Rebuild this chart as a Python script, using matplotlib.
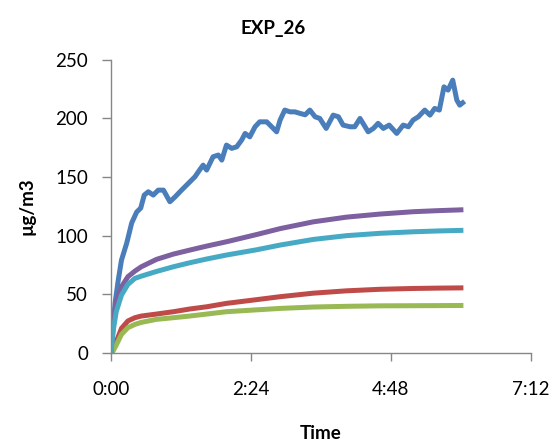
import matplotlib

matplotlib.use("Agg")
import matplotlib.pyplot as plt

plt.rcParams["font.family"] = ["Lato", "DejaVu Sans"]

# time in hours
blue_t = [0, 0.01, 0.07, 0.125, 0.18, 0.27, 0.355, 0.44, 0.51, 0.57, 0.64, 0.725,
          0.81, 0.90, 1.01, 1.10, 1.21, 1.325, 1.44, 1.52, 1.58, 1.64, 1.75, 1.84,
          1.90, 1.98, 2.07, 2.155, 2.24, 2.30, 2.38, 2.47, 2.55, 2.67, 2.755, 2.84,
          2.90, 2.98, 3.07, 3.155, 3.24, 3.33, 3.41, 3.50, 3.58, 3.69, 3.81, 3.90,
          3.98, 4.10, 4.18, 4.27, 4.41, 4.50, 4.58, 4.67, 4.77, 4.90, 5.01, 5.10,
          5.18, 5.27, 5.38, 5.47, 5.55, 5.63, 5.71, 5.78, 5.86, 5.93, 5.98, 6.03]
blue_v = [0, 2.6, 42.6, 62.2, 79.2, 93.7, 110.8, 120.1, 123.5, 134.6, 137.4, 134.6,
          138.8, 138.8, 128.9, 133.1, 138.8, 144.5, 150.2, 156.0, 160.1, 155.9, 167.2, 168.7,
          164.4, 177.2, 174.4, 175.7, 181.4, 187.1, 184.2, 192.8, 197.0, 197.0, 192.8, 188.5,
          198.5, 207.0, 205.5, 205.5, 204.2, 203.0, 207.0, 201.3, 199.9, 191.4, 202.7, 201.3,
          194.2, 192.8, 192.8, 199.9, 188.5, 191.4, 195.7, 191.4, 194.2, 187.1, 194.2, 192.8,
          198.5, 201.3, 207.0, 202.7, 208.4, 207.0, 226.8, 224.0, 232.5, 215.5, 211.2, 213.2]

smooth_t = [0, 0.034, 0.09, 0.18, 0.29, 0.41, 0.52, 0.78, 1.07, 1.35, 1.64, 1.98,
            2.5, 2.9, 3.47, 4.04, 4.61, 5.18, 5.6, 6.0]
red_v = [0, 3, 9.6, 21, 27.3, 30.1, 31.5, 33.2, 35.2, 37.5, 39.4, 42.3,
         45.5, 48, 51, 53, 54.3, 55, 55.3, 55.5]
green_v = [0, 1.5, 6.8, 15.9, 21.6, 24.4, 26.1, 28.7, 30.1, 31.5, 33.2, 35.2,
           36.8, 38, 39.2, 39.8, 40.2, 40.3, 40.4, 40.5]
purple_v = [0, 26.7, 43.7, 56.5, 65, 69.8, 73.5, 79.8, 84.3, 87.7, 91.1, 94.8,
            101, 106, 111.8, 115.8, 118.4, 120.4, 121.3, 122]
cyan_v = [0, 18, 35.2, 49.4, 58.5, 63.6, 65.5, 69.5, 73.5, 76.9, 80.1, 83.5,
          88, 92, 96.8, 100, 102, 103.3, 104, 104.5]

x_ticks = [0, 2.4, 4.8, 7.2]
x_tick_labels = ["0:00", "2:24", "4:48", "7:12"]
y_ticks = [0, 50, 100, 150, 200, 250]

fig = plt.figure(figsize=(5.53, 4.45), dpi=100)
ax = fig.add_axes([0.2007, 0.2067, 0.7593, 0.6593])

lw = 3.6
ax.plot(blue_t, blue_v, color="#4A7EBB", lw=lw, solid_joinstyle="round")
ax.plot(smooth_t, red_v, color="#BE4B48", lw=lw, solid_joinstyle="round")
ax.plot(smooth_t, green_v, color="#98B954", lw=lw, solid_joinstyle="round")
ax.plot(smooth_t, purple_v, color="#7D60A0", lw=lw, solid_joinstyle="round")
ax.plot(smooth_t, cyan_v, color="#46AAC5", lw=lw, solid_joinstyle="round")

ax.set_xlim(0, 7.2)
ax.set_ylim(0, 250)
ax.set_xticks(x_ticks)
ax.set_xticklabels(x_tick_labels)
ax.set_yticks(y_ticks)

for s in ["top", "right"]:
    ax.spines[s].set_visible(False)
for s in ["left", "bottom"]:
    ax.spines[s].set_color("#868686")
    ax.spines[s].set_linewidth(1.0)
ax.tick_params(axis="both", colors="#868686", labelcolor="black", labelsize=13.5,
               width=1.0)
ax.tick_params(axis="y", length=6.5, pad=10)
ax.tick_params(axis="x", length=6, pad=14)

fig.text(0.494, 0.937, "EXP_26", ha="center", va="center", fontsize=13.5, fontweight="bold")
ax.set_ylabel("µg/m3", fontsize=13.5, fontweight="bold", labelpad=14)
fig.text(0.58, 0.026, "Time", ha="center", va="center", fontsize=13.5, fontweight="bold")

fig.savefig("out.png", dpi=100)
plt.close(fig)
